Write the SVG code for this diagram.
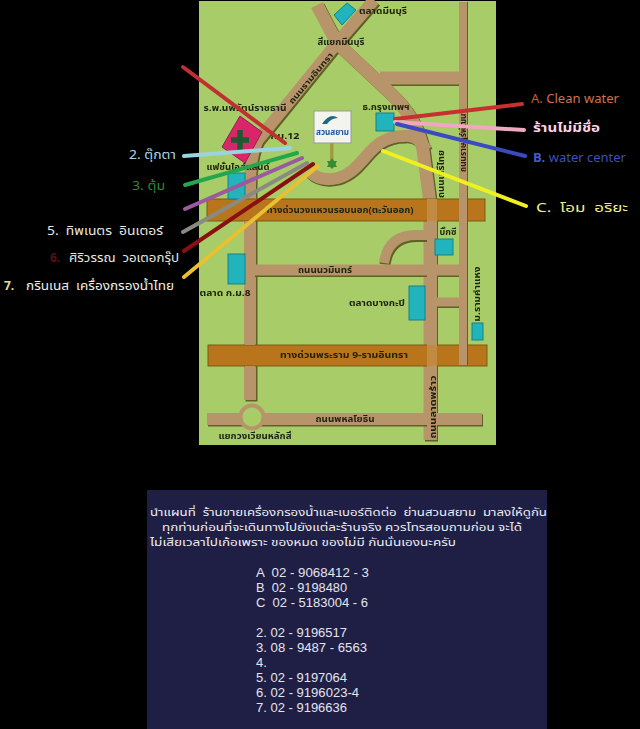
<svg xmlns="http://www.w3.org/2000/svg" width="640" height="729" viewBox="0 0 640 729">
<defs>
<style>
.th{font-family:"Noto Sans Thai","Noto Sans","DejaVu Sans","Liberation Sans",sans-serif}
.map{font-size:8px;font-weight:bold;fill:#1c2410;text-anchor:middle}
.lab{font-size:12px}
.num{font-family:"Liberation Sans",Arial,sans-serif;font-size:13px;fill:#e4e4ec}
.para{font-size:10.8px;fill:#eeeef4}
.rs{fill:none;stroke:#5f5f25;stroke-linecap:butt;stroke-linejoin:round}
.r{fill:none;stroke:#b8946a;stroke-linecap:butt;stroke-linejoin:round}
.b{fill:#20b4bc;stroke:#148088;stroke-width:1}
.c{fill:none;stroke-width:4;stroke-linecap:round}
.band{fill:#b8741c;stroke:#7a5a10;stroke-width:1}
</style>
<filter id="soft" x="0" y="0" width="100%" height="100%"><feGaussianBlur stdDeviation="0.35"/></filter>
<path id="rd1" d="M317 5L337 43L387 90Q418 118 423 150L430 203V440"/>
<path id="rd2" d="M374 0L337 43L280 113L258 140Q250 155 250 187V400"/>
<path id="rd3" d="M380 78H462"/>
<path id="rd4" d="M463 2V365"/>
<path id="rd5" d="M250 270H463"/>
<path id="rd6" d="M384 263Q388 235 416 235H432"/>
<path id="rd7" d="M436 302H461"/>
<path id="rd8" d="M207 419H482"/>
<path id="rd9" d="M310 172Q320 182 338 178C366 170 368 136 404 136Q418 134 426 150"/>
</defs>
<rect width="640" height="729" fill="#000"/>
<g id="map" filter="url(#soft)">
<rect x="199" y="1" width="297" height="444" fill="#a8cc68"/>
<g id="roads-upper">
<use href="#rd1" class="rs" stroke-width="13" x="1.500" y="1.500"/><use href="#rd2" class="rs" stroke-width="12" x="1.500" y="1.500"/><use href="#rd3" class="rs" stroke-width="13" x="1" y="1.500"/><use href="#rd9" class="rs" stroke-width="12" x="1" y="1.500"/>
<use href="#rd1" class="r" stroke-width="13"/><use href="#rd2" class="r" stroke-width="12"/><use href="#rd3" class="r" stroke-width="13"/><use href="#rd9" class="r" stroke-width="12"/>
</g>
<rect id="band-1" class="band" x="207" y="199" width="278" height="22"/>
<rect id="band-2" class="band" x="208" y="345" width="279" height="21"/>
<g id="roads-lower">
<use href="#rd5" class="rs" stroke-width="11" x="1" y="1.500"/><use href="#rd6" class="rs" stroke-width="11" x="1" y="1.500"/><use href="#rd7" class="rs" stroke-width="9" x="1" y="1.500"/><use href="#rd8" class="rs" stroke-width="12" x="1" y="1.500"/><use href="#rd4" class="rs" stroke-width="8" x="1" y="0"/>
<path class="r" stroke-width="10" d="M250 221V345M250 366V400M432 221V345M432 366V440"/>
<path fill="#c28a40" d="M427 199h10v22h-10zM427 345h10v21h-10z"/>
<use href="#rd5" class="r" stroke-width="11"/><use href="#rd6" class="r" stroke-width="10"/><use href="#rd7" class="r" stroke-width="9"/><use href="#rd8" class="r" stroke-width="12"/><use href="#rd4" class="r" stroke-width="8"/>
</g>
<circle id="circle" cx="252" cy="417" r="11.500" fill="#a8cc68" stroke="#b8946a" stroke-width="4"/>
<g id="hospital"><polygon points="240,116 262,132 245,163 222,147" fill="#d82868" stroke="#902050"/><path d="M240 130V150M231 140H249" stroke="#1e5a30" stroke-width="5.500" fill="none"/></g>
<g id="market-top"><polygon class="b" points="334,15 347,3 356,10 342,25"/></g>
<g id="bank"><rect class="b" x="376" y="113" width="18" height="18"/></g>
<g id="fashion"><rect class="b" x="228" y="173" width="17" height="26"/></g>
<g id="km8"><rect class="b" x="228" y="254" width="17" height="30"/></g>
<g id="bigc"><rect class="b" x="435" y="239" width="18" height="16"/></g>
<g id="bangkapi"><rect class="b" x="409" y="286" width="16" height="34"/></g>
<g id="ramkhamhaeng"><rect class="b" x="472" y="323" width="11" height="17"/></g>
<g id="logo"><rect x="330" y="143" width="3.500" height="19" fill="#a09a40"/><path d="M332 158l2 3 3 0-1.500 3 1.500 3-3 0-2 2-2-2-3 0 1.500-3-1.500-3 3 0z" fill="#3a8a30"/><rect x="314" y="111" width="37" height="32" fill="#f4f4ee" stroke="#999"/><path d="M322 124Q330 112 338 118Q331 118 327 124z" fill="#1f6a80"/><text class="th" x="332.500" y="135" font-size="9.500" font-weight="bold" fill="#1858a0" text-anchor="middle" textLength="33" lengthAdjust="spacingAndGlyphs">สวนสยาม</text></g>
<g id="map-labels" class="th">
<text class="map" x="383" y="14" textLength="48" lengthAdjust="spacingAndGlyphs">ตลาดมีนบุรี</text>
<text class="map" x="341" y="45" textLength="47" lengthAdjust="spacingAndGlyphs">สี่แยกมีนบุรี</text>
<text class="map" transform="translate(313 80) rotate(-50)" textLength="64" lengthAdjust="spacingAndGlyphs">ถนนรามอินทรา</text>
<text class="map" x="245" y="111" textLength="83" lengthAdjust="spacingAndGlyphs">ร.พ.นพรัตน์ราชธานี</text>
<text class="map" x="285" y="139" textLength="29" lengthAdjust="spacingAndGlyphs">กม.12</text>
<text class="map" x="386" y="110" textLength="47" lengthAdjust="spacingAndGlyphs">ธ.กรุงเทพฯ</text>
<text class="map" x="238" y="170" textLength="63" lengthAdjust="spacingAndGlyphs">แฟชั่นไอส์แลนด์</text>
<text class="map" transform="translate(444 174) rotate(-90)" textLength="48" lengthAdjust="spacingAndGlyphs">ถนนเสรีไทย</text>
<text class="map" transform="translate(466 141) rotate(-90)" textLength="62" lengthAdjust="spacingAndGlyphs">ถนนราษฎร์พัฒนา</text>
<text class="map" x="340" y="213" textLength="147" lengthAdjust="spacingAndGlyphs">ทางด่วนวงแหวนรอบนอก(ตะวันออก)</text>
<text class="map" x="448" y="235" textLength="17" lengthAdjust="spacingAndGlyphs">บิ๊กซี</text>
<text class="map" x="325" y="273" textLength="54" lengthAdjust="spacingAndGlyphs">ถนนนวมินทร์</text>
<text class="map" x="225" y="296" textLength="51" lengthAdjust="spacingAndGlyphs">ตลาด ก.ม.8</text>
<text class="map" x="377" y="306" textLength="56" lengthAdjust="spacingAndGlyphs">ตลาดบางกะปิ</text>
<text class="map" transform="translate(480 294) rotate(-90)" textLength="55" lengthAdjust="spacingAndGlyphs">ม.รามคำแหง</text>
<text class="map" x="344" y="358" textLength="128" lengthAdjust="spacingAndGlyphs">ทางด่วนพระราม 9-รามอินทรา</text>
<text class="map" transform="translate(436 407) rotate(-90)" textLength="63" lengthAdjust="spacingAndGlyphs">ถนนลาดพร้าว</text>
<text class="map" x="345" y="422" textLength="59" lengthAdjust="spacingAndGlyphs">ถนนพหลโยธิน</text>
<text class="map" x="255" y="439" textLength="73" lengthAdjust="spacingAndGlyphs">แยกวงเวียนหลักสี่</text>
</g>
</g>
<g id="connectors">
<line class="c" x1="183" y1="67" x2="285" y2="143" stroke="#c03030"/>
<line class="c" x1="184" y1="156" x2="290" y2="148" stroke="#9ad4e0"/>
<line class="c" x1="185" y1="185" x2="297" y2="153" stroke="#22a84a"/>
<line class="c" x1="185" y1="209" x2="302" y2="158" stroke="#9a5aa0"/>
<line class="c" x1="183" y1="232" x2="307" y2="163" stroke="#8a8a80"/>
<line class="c" x1="184" y1="251" x2="313" y2="164" stroke="#8a1010"/>
<line class="c" x1="184" y1="277" x2="318" y2="166" stroke="#e8c030"/>
<line class="c" x1="395" y1="119" x2="522" y2="104" stroke="#c83030"/>
<line class="c" x1="395" y1="122" x2="524" y2="130" stroke="#f0a8c0"/>
<line class="c" x1="397" y1="124" x2="525" y2="156" stroke="#3a4ac0"/>
<line class="c" x1="383" y1="151" x2="526" y2="206" stroke="#f0f020"/>
</g>
<g id="label-a" class="th lab"><text x="531" y="103" fill="#d07050" textLength="88" lengthAdjust="spacingAndGlyphs"><tspan fill="#c85a40">A.</tspan> Clean water</text></g>
<g id="label-shop" class="th lab"><text x="533" y="132" fill="#ffd4e4" font-weight="bold" textLength="67" lengthAdjust="spacingAndGlyphs">ร้านไม่มีชื่อ</text></g>
<g id="label-b" class="th lab"><text x="533" y="162" fill="#3f4fb8" textLength="93" lengthAdjust="spacingAndGlyphs"><tspan font-weight="bold" fill="#4858d0">B.</tspan> water center</text></g>
<g id="label-c" class="th lab"><text x="536" y="212" fill="#f0f080" textLength="92" lengthAdjust="spacingAndGlyphs" xml:space="preserve">C.  โอม  อริยะ</text></g>
<g id="label-2" class="th lab"><text x="129" y="159" fill="#a8d8e8" textLength="47" lengthAdjust="spacingAndGlyphs">2. ตุ๊กตา</text></g>
<g id="label-3" class="th lab"><text x="132" y="190" fill="#2a8a3a" textLength="33" lengthAdjust="spacingAndGlyphs">3. ตุ้ม</text></g>
<g id="label-5" class="th lab"><text x="47" y="235" fill="#e8e8e0" textLength="116" lengthAdjust="spacingAndGlyphs" xml:space="preserve">5.  ทิพเนตร  อินเตอร์</text></g>
<g id="label-6" class="th lab"><text x="50" y="262" fill="#5a1010" font-weight="bold">6.</text><text x="69" y="262" fill="#e8e8e0" textLength="110" lengthAdjust="spacingAndGlyphs" xml:space="preserve">ศิริวรรณ  วอเตอกรุ๊ป</text></g>
<g id="label-7" class="th lab"><text x="4" y="290" fill="#e8dc98" font-weight="bold">7.</text><text x="26" y="290" fill="#f0f0e8" textLength="148" lengthAdjust="spacingAndGlyphs" xml:space="preserve">กรินเนส  เครื่องกรองน้ำไทย</text></g>
<g id="panel">
<rect x="147" y="490" width="400" height="239" fill="#1f1f45"/>
<g class="th para">
<text x="150" y="516" textLength="397" lengthAdjust="spacingAndGlyphs" xml:space="preserve">นำแผนที่  ร้านขายเครื่องกรองน้ำและเบอร์ติดต่อ  ย่านสวนสยาม  มาลงให้ดูกัน</text>
<text x="162" y="531" textLength="360" lengthAdjust="spacingAndGlyphs">ทุกท่านก่อนที่จะเดินทางไปยังแต่ละร้านจริง ควรโทรสอบถามก่อน จะได้</text>
<text x="150" y="546" textLength="306" lengthAdjust="spacingAndGlyphs">ไม่เสียเวลาไปเก้อเพราะ ของหมด ของไม่มี กันนั่นเองนะครับ</text>
</g>
<g class="num">
<text x="256" y="577" xml:space="preserve" textLength="113" lengthAdjust="spacingAndGlyphs">A  02 - 9068412 - 3</text>
<text x="256" y="592" xml:space="preserve" textLength="91" lengthAdjust="spacingAndGlyphs">B  02 - 9198480</text>
<text x="256" y="607" xml:space="preserve" textLength="112" lengthAdjust="spacingAndGlyphs">C  02 - 5183004 - 6</text>
<text x="256" y="637" textLength="91" lengthAdjust="spacingAndGlyphs">2. 02 - 9196517</text>
<text x="256" y="652" textLength="111" lengthAdjust="spacingAndGlyphs">3. 08 - 9487 - 6563</text>
<text x="256" y="667">4.</text>
<text x="256" y="682" textLength="91" lengthAdjust="spacingAndGlyphs">5. 02 - 9197064</text>
<text x="256" y="697" textLength="103" lengthAdjust="spacingAndGlyphs">6. 02 - 9196023-4</text>
<text x="256" y="712" textLength="91" lengthAdjust="spacingAndGlyphs">7. 02 - 9196636</text>
</g>
</g>
</svg>
